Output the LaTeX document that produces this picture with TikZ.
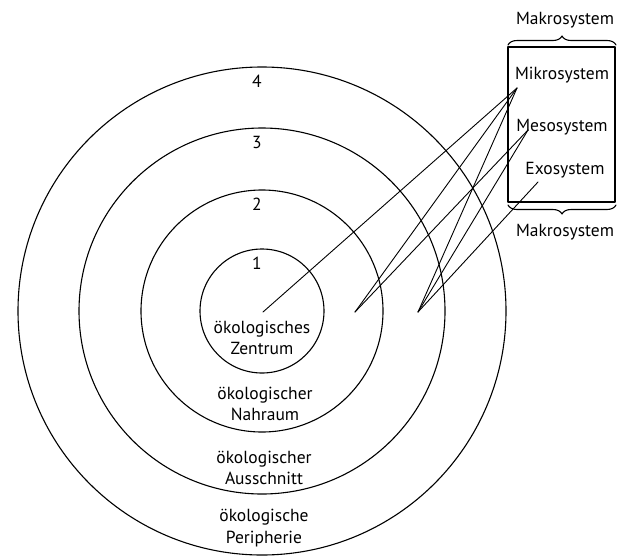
\documentclass[tikz,border=0pt]{standalone}
\usepackage{fontspec}
\setmainfont{PT Sans}
\usetikzlibrary{decorations.pathreplacing}
\usetikzlibrary{positioning}

\begin{document}
\begin{tikzpicture}[line cap=round,line join=round,x=1pt,y=-1pt,
  ring/.style={line width=1.1pt},
  link/.style={line width=0.9pt},
  lbl/.style={font=\fontsize{17.5}{21.5}\selectfont,align=center,inner sep=0pt}]
\useasboundingbox (0,0) rectangle (623,557);
\coordinate (mitte) at (262,311);
\foreach \r/\n in {62/1,121/2,183/3,244/4}{
  \draw[ring] (mitte) circle (\r);
  \node[lbl] (nr\n) at (257,{311-\r+14}) {\n};
}
\node[lbl] (zentrum) at (262,338) {ökologisches\\Zentrum};
\node[lbl] (nahraum) at (265,404) {ökologischer\\Nahraum};
\node[lbl] (ausschnitt) at (264,468) {ökologischer\\Ausschnitt};
\node[lbl] (peripherie) at (264,528) {ökologische\\Peripherie};
\node[draw,ring,minimum width=107,minimum height=155] (kasten) at (561.5,124.5) {};
\node[lbl] (mikro) at (562,75) {Mikrosystem};
\node[lbl] (meso) at (562,127) {Mesosystem};
\node[lbl] (exo) at (565,170) {Exosystem};
\draw[ring,decorate,decoration={brace,amplitude=9pt}] (508,45) -- (616,45);
\draw[ring,decorate,decoration={brace,amplitude=9pt}] (616,205) -- (508,205);
\node[lbl] (makro-oben) at (565,20) {Makrosystem};
\node[lbl] (makro-unten) at (565,232) {Makrosystem};
\coordinate (p-zentrum) at (263,312);
\coordinate (p-nahraum) at (355,312);
\coordinate (p-ausschnitt) at (418,312);
\coordinate (k-mikro) at (517,88);
\coordinate (k-meso) at (528,130);
\coordinate (k-exo) at (538,182);
\foreach \a/\b in {zentrum/mikro,nahraum/mikro,ausschnitt/mikro,nahraum/meso,ausschnitt/meso,ausschnitt/exo}
  \draw[link] (p-\a) -- (k-\b);
\end{tikzpicture}
\end{document}
